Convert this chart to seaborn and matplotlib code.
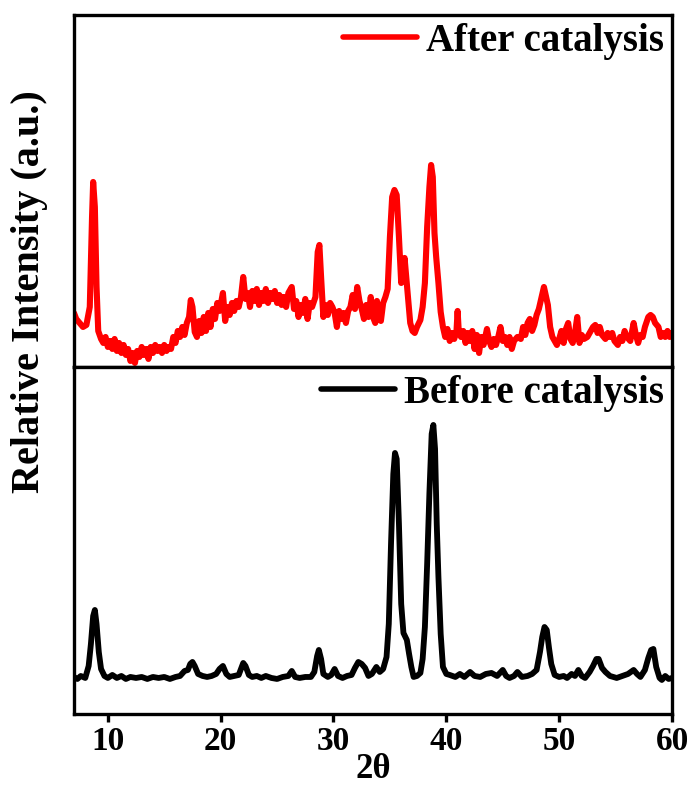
import pandas as pd
import seaborn as sns
import matplotlib.pyplot as plt

# (2-theta, relative height) readings taken from the reference pattern
after_points = [
    (7.0, 54), (7.2, 48), (7.5, 44), (7.8, 40), (8.1, 42), (8.4, 60), (8.6, 150), (8.7, 185),
    (8.85, 160), (9.0, 80), (9.15, 36), (9.4, 28), (9.6, 24), (9.8, 30), (10.0, 20), (10.2, 26),
    (10.4, 18), (10.6, 28), (10.8, 16), (11.0, 24), (11.2, 14), (11.4, 22), (11.6, 12), (11.8, 18),
    (12.0, 6), (12.2, 14), (12.4, 4), (12.6, 16), (12.8, 10), (13.0, 20), (13.2, 12), (13.4, 18),
    (13.6, 8), (13.8, 20), (14.0, 14), (14.2, 22), (14.4, 16), (14.6, 20), (14.8, 14), (15.0, 22),
    (15.2, 16), (15.4, 20), (15.6, 18), (15.8, 30), (16.0, 24), (16.2, 36), (16.4, 30), (16.6, 40),
    (16.8, 32), (17.0, 44), (17.2, 50), (17.35, 67), (17.5, 60), (17.7, 35), (17.9, 30), (18.1, 46),
    (18.3, 34), (18.5, 50), (18.7, 36), (18.9, 54), (19.1, 40), (19.3, 58), (19.5, 48), (19.7, 64),
    (19.9, 56), (20.2, 74), (20.4, 46), (20.6, 60), (20.8, 52), (21.0, 64), (21.2, 56), (21.4, 66),
    (21.6, 60), (21.8, 70), (22.0, 90), (22.2, 68), (22.4, 74), (22.6, 60), (22.8, 76), (23.0, 66),
    (23.2, 78), (23.4, 62), (23.6, 74), (23.8, 66), (24.0, 78), (24.2, 64), (24.4, 74), (24.6, 68),
    (24.8, 76), (25.0, 64), (25.2, 72), (25.4, 62), (25.6, 70), (25.8, 60), (26.0, 74), (26.3, 80),
    (26.5, 58), (26.7, 66), (26.9, 50), (27.1, 62), (27.3, 54), (27.5, 68), (27.7, 48), (27.9, 64),
    (28.1, 60), (28.4, 70), (28.6, 115), (28.75, 122), (28.9, 90), (29.1, 50), (29.3, 62), (29.5, 52),
    (29.7, 64), (29.9, 60), (30.1, 54), (30.3, 40), (30.5, 56), (30.7, 48), (30.9, 54), (31.1, 44),
    (31.3, 56), (31.5, 60), (31.7, 72), (31.9, 58), (32.1, 80), (32.3, 66), (32.5, 58), (32.7, 48),
    (32.9, 62), (33.1, 50), (33.3, 70), (33.5, 50), (33.7, 44), (33.85, 66), (34.0, 48), (34.2, 46),
    (34.4, 64), (34.6, 70), (34.8, 78), (35.0, 130), (35.2, 170), (35.4, 177), (35.6, 172), (35.8, 130),
    (36.0, 84), (36.15, 100), (36.3, 109), (36.45, 90), (36.6, 70), (36.8, 44), (37.0, 36), (37.2, 34),
    (37.4, 40), (37.7, 47), (37.9, 60), (38.1, 84), (38.3, 140), (38.5, 180), (38.65, 202), (38.8, 190),
    (38.95, 134), (39.1, 110), (39.3, 84), (39.5, 55), (39.7, 40), (39.9, 30), (40.1, 38), (40.3, 26),
    (40.5, 34), (40.7, 28), (40.9, 36), (41.0, 56), (41.1, 36), (41.3, 30), (41.5, 36), (41.7, 24),
    (41.9, 34), (42.1, 26), (42.3, 36), (42.5, 18), (42.7, 32), (42.9, 14), (43.1, 30), (43.3, 22),
    (43.6, 38), (43.8, 26), (44.0, 20), (44.2, 28), (44.4, 22), (44.6, 30), (44.8, 40), (45.0, 26),
    (45.2, 30), (45.4, 22), (45.6, 30), (45.8, 18), (46.0, 26), (46.3, 30), (46.6, 28), (46.8, 40),
    (47.0, 32), (47.2, 44), (47.4, 48), (47.6, 36), (47.8, 42), (48.0, 52), (48.2, 58), (48.45, 70),
    (48.65, 80), (48.85, 70), (49.0, 62), (49.2, 40), (49.4, 30), (49.6, 26), (49.8, 22), (50.0, 28),
    (50.2, 36), (50.4, 24), (50.6, 38), (50.8, 44), (51.0, 28), (51.2, 24), (51.4, 34), (51.6, 50),
    (51.8, 24), (52.0, 32), (52.2, 28), (52.5, 30), (52.8, 36), (53.0, 40), (53.2, 42), (53.4, 34),
    (53.6, 40), (53.8, 32), (54.1, 28), (54.3, 34), (54.5, 30), (54.7, 34), (54.9, 26), (55.2, 22),
    (55.4, 30), (55.6, 26), (55.8, 36), (56.0, 30), (56.3, 26), (56.6, 44), (56.8, 32), (57.0, 24),
    (57.2, 32), (57.4, 30), (57.6, 40), (57.9, 50), (58.1, 52), (58.3, 50), (58.5, 44), (58.8, 40),
    (59.0, 30), (59.2, 34), (59.4, 30), (59.6, 36), (59.8, 30), (60.0, 34),
]
before_points = [
    (7.0, 37), (7.3, 35), (7.6, 38), (8.0, 36), (8.3, 48), (8.5, 70), (8.7, 98), (8.85, 104),
    (9.0, 90), (9.2, 62), (9.4, 45), (9.7, 38), (10.0, 36), (10.4, 39), (10.8, 36), (11.2, 38),
    (11.6, 35), (12.0, 37), (12.5, 36), (13.0, 37), (13.5, 35), (14.0, 37), (14.5, 36), (15.0, 37),
    (15.5, 35), (16.0, 37), (16.4, 38), (16.8, 43), (17.1, 44), (17.3, 50), (17.5, 52), (17.7, 48),
    (18.0, 40), (18.4, 38), (18.8, 37), (19.2, 38), (19.6, 40), (19.9, 45), (20.2, 48), (20.5, 40),
    (20.8, 37), (21.2, 38), (21.6, 39), (21.8, 45), (22.0, 51), (22.2, 48), (22.5, 39), (22.8, 37),
    (23.2, 38), (23.6, 36), (24.0, 38), (24.5, 36), (25.0, 35), (25.5, 37), (26.0, 38), (26.3, 43),
    (26.6, 37), (27.0, 36), (27.5, 37), (28.0, 37), (28.3, 42), (28.55, 58), (28.7, 64), (28.9, 55),
    (29.1, 40), (29.5, 37), (29.8, 39), (30.1, 45), (30.4, 38), (30.8, 36), (31.2, 38), (31.6, 39),
    (31.9, 46), (32.2, 52), (32.5, 50), (32.8, 46), (33.1, 38), (33.4, 40), (33.8, 47), (34.1, 42),
    (34.4, 45), (34.7, 57), (34.9, 90), (35.1, 171), (35.3, 240), (35.45, 261), (35.6, 255), (35.8, 190),
    (36.0, 110), (36.2, 81), (36.5, 74), (36.7, 60), (36.9, 47), (37.1, 37), (37.4, 38), (37.7, 41),
    (37.9, 55), (38.1, 87), (38.3, 150), (38.5, 221), (38.7, 280), (38.85, 289), (39.0, 265), (39.15, 190),
    (39.3, 137), (39.5, 80), (39.7, 47), (40.0, 40), (40.3, 39), (40.8, 37), (41.2, 40), (41.6, 37),
    (42.1, 42), (42.5, 38), (43.0, 37), (43.5, 40), (44.0, 41), (44.5, 38), (45.0, 44), (45.3, 38),
    (45.6, 36), (46.0, 38), (46.3, 42), (46.7, 37), (47.2, 38), (47.6, 40), (48.0, 44), (48.3, 62),
    (48.5, 77), (48.7, 87), (48.9, 84), (49.1, 66), (49.3, 50), (49.6, 39), (50.0, 37), (50.4, 38),
    (50.7, 36), (51.1, 40), (51.4, 38), (51.7, 44), (52.0, 38), (52.3, 36), (52.7, 42), (53.0, 48),
    (53.3, 55), (53.5, 55), (53.8, 46), (54.1, 42), (54.5, 38), (55.1, 36), (55.6, 38), (56.1, 40),
    (56.6, 44), (56.9, 40), (57.2, 37), (57.6, 44), (57.9, 56), (58.15, 64), (58.35, 65), (58.6, 47),
    (58.9, 36), (59.1, 34), (59.4, 38), (59.7, 35), (60.0, 36),
]

series_labels = ["After catalysis", "Before catalysis"]
series_colors = ["#ff0000", "#000000"]
tick_values = [10, 20, 30, 40, 50, 60]

after_df = pd.DataFrame(after_points, columns=["two_theta", "intensity"])
before_df = pd.DataFrame(before_points, columns=["two_theta", "intensity"])

sns.set_style("white")
plt.rcParams['font.family'] = ['Liberation Serif', 'DejaVu Serif']
plt.rcParams['font.weight'] = 'bold'
plt.rcParams['text.color'] = 'black'
plt.rcParams['axes.labelcolor'] = 'black'
plt.rcParams['xtick.color'] = 'black'

fig = plt.figure(figsize=(6.94, 7.89), dpi=100)
ax_top = fig.add_axes([0.1066, 0.5349, 0.8617, 0.4461])
ax_bot = fig.add_axes([0.1066, 0.0951, 0.8617, 0.4398])

sns.lineplot(data=after_df, x="two_theta", y="intensity", ax=ax_top, color=series_colors[0],
             linewidth=4.4, label=series_labels[0], solid_joinstyle='round', sort=False)
sns.lineplot(data=before_df, x="two_theta", y="intensity", ax=ax_bot, color=series_colors[1],
             linewidth=4.2, label=series_labels[1], solid_joinstyle='round', sort=False)

ax_top.set_ylim(0, 352)
ax_bot.set_ylim(0, 347)
for ax in (ax_top, ax_bot):
    ax.set_xlim(7, 60)
    ax.set_yticks([])
    ax.set_xlabel("")
    ax.set_ylabel("")
    for sp in ax.spines.values():
        sp.set_linewidth(2.4)
        sp.set_color("black")
    leg = ax.legend(loc="upper right", frameon=False, fontsize=28, handlelength=1.9,
                    handletextpad=0.25, borderaxespad=0.1, borderpad=0.1)
    for line in leg.get_lines():
        line.set_linewidth(4)

ax_top.set_xticks([])
ax_bot.set_xticks(tick_values)
ax_bot.tick_params(axis='x', direction='out', length=6, width=2.4, labelsize=24, pad=3,
                   bottom=True)
for lbl in ax_bot.get_xticklabels():
    lbl.set_fontweight('bold')
ax_bot.set_xlabel("2θ", fontsize=25, fontweight='bold', labelpad=-3)

fig.text(0.043, 0.63, "Relative Intensity (a.u.)", rotation=90, ha='center', va='center',
         fontsize=29, fontweight='bold')

fig.savefig("out.png", dpi=100)
plt.close(fig)
